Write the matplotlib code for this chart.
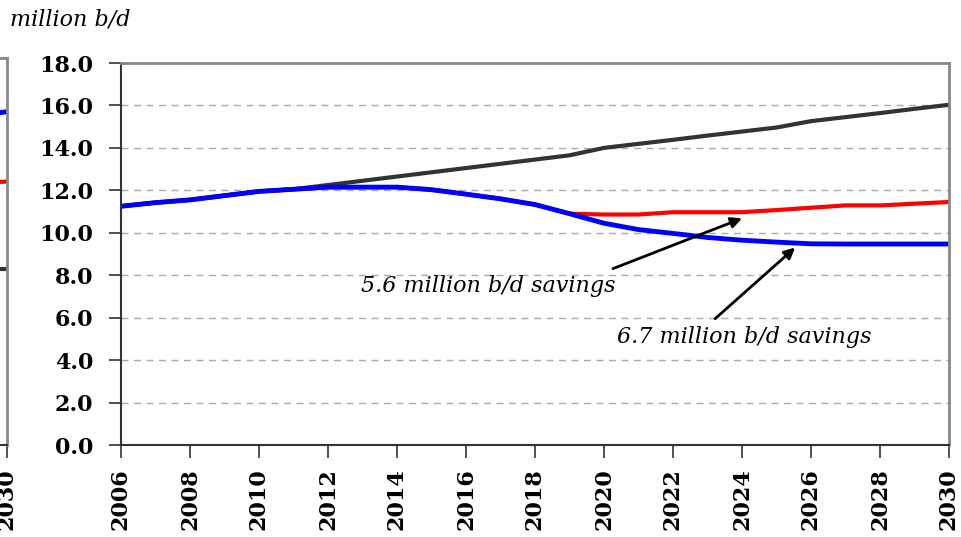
import matplotlib
matplotlib.use("Agg")
import matplotlib.pyplot as plt

years = list(range(2006, 2031))
reference = [11.25, 11.42, 11.55, 11.75, 11.95, 12.05, 12.25, 12.45, 12.65, 12.85,
             13.05, 13.25, 13.45, 13.65, 14.0, 14.19, 14.38, 14.58, 14.77, 14.96,
             15.26, 15.45, 15.64, 15.84, 16.03]
case_red = [11.25, 11.42, 11.55, 11.75, 11.95, 12.05, 12.15, 12.15, 12.15, 12.03,
            11.82, 11.6, 11.33, 10.9, 10.86, 10.86, 10.97, 10.97, 10.97, 11.07,
            11.18, 11.29, 11.29, 11.37, 11.45]
case_blue = [11.25, 11.42, 11.55, 11.75, 11.95, 12.05, 12.15, 12.15, 12.15, 12.03,
             11.82, 11.6, 11.33, 10.9, 10.45, 10.15, 9.97, 9.78, 9.65, 9.56,
             9.48, 9.47, 9.47, 9.47, 9.47]
xticks = list(range(2006, 2031, 2))
yticks = [0, 2, 4, 6, 8, 10, 12, 14, 16, 18]

# neighbouring chart, only its right edge shows
frag_years = [2028, 2029, 2030]
frag_blue = [15.1, 15.3, 15.5]
frag_red = [12.15, 12.2, 12.25]
frag_black = [8.2, 8.2, 8.2]
frag_xticks = [2030]

serif = "DejaVu Serif"
W, H = 961, 537
fig = plt.figure(figsize=(9.61, 5.37), dpi=100)

def box(l, t, r, b):
    return [l / W, 1 - b / H, (r - l) / W, (b - t) / H]

def style(ax, xt, ylabels=True):
    ax.set_ylim(0, 18)
    ax.set_yticks(yticks)
    ax.set_yticklabels(["%.1f" % v for v in yticks] if ylabels else [])
    ax.set_xlim(2006, 2030)
    ax.set_xticks(xt)
    ax.set_xticklabels([str(v) for v in xt], rotation=90)
    ax.tick_params(axis="both", direction="out", length=9, width=1.2, pad=11,
                   labelsize=16, colors="#333333")
    ax.tick_params(axis="x", pad=8)
    for lab in ax.get_xticklabels() + ax.get_yticklabels():
        lab.set_fontfamily(serif)
        lab.set_fontweight("bold")
        lab.set_color("black")
    ax.grid(axis="y", linestyle=(0, (5, 4)), color="#aaaaaa", lw=1)
    ax.set_axisbelow(True)
    ax.spines["top"].set_color("#888888")
    ax.spines["right"].set_color("#888888")
    ax.spines["top"].set_linewidth(2)
    ax.spines["right"].set_linewidth(2)
    ax.spines["left"].set_color("#333333")
    ax.spines["bottom"].set_color("#333333")
    ax.spines["left"].set_linewidth(1.5)
    ax.spines["bottom"].set_linewidth(1.5)

frag = fig.add_axes(box(-821, 58, 7, 445))
style(frag, frag_xticks, ylabels=False)
frag.grid(False)
frag.plot(frag_years, frag_black, color="#333333", lw=3)
frag.plot(frag_years, frag_red, color="#ff0000", lw=3)
frag.plot(frag_years, frag_blue, color="#0000ff", lw=3.5)

ax = fig.add_axes(box(121, 63, 949, 445))
style(ax, xticks)
ax.plot(years, reference, color="#333333", lw=3, solid_capstyle="butt")
ax.plot(years, case_red, color="#ff0000", lw=3, solid_capstyle="butt")
ax.plot(years, case_blue, color="#0000ff", lw=3.5, solid_capstyle="butt")

arrow = dict(arrowstyle="-|>", color="black", lw=2, mutation_scale=16,
             shrinkA=0, shrinkB=0)
ax.annotate("", xy=(2024.0, 10.68), xytext=(2020.26, 8.31), arrowprops=arrow)
ax.annotate("", xy=(2025.54, 9.3), xytext=(2023.22, 5.95), arrowprops=arrow)
ax.text(2012.95, 7.5, "5.6 million b/d savings", fontfamily=serif, style="italic",
        fontsize=16, va="center", ha="left")
ax.text(2020.38, 5.1, "6.7 million b/d savings", fontfamily=serif, style="italic",
        fontsize=16, va="center", ha="left")

fig.text(10 / W, 1 - 20 / H, "million b/d", fontfamily=serif, style="italic",
         fontsize=16, va="center", ha="left")

fig.savefig("out.png", dpi=100)
